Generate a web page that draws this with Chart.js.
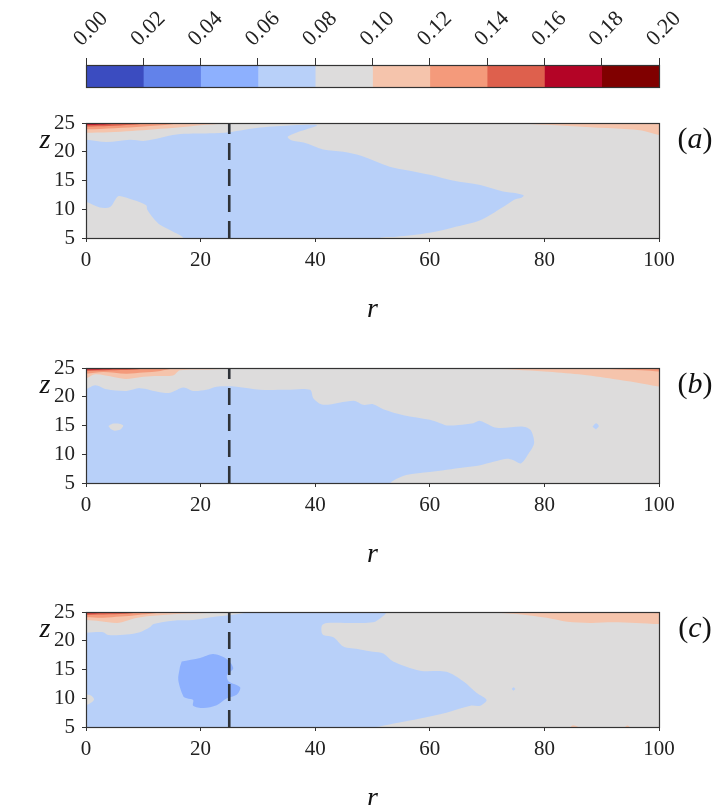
<!DOCTYPE html>
<html>
<head>
<meta charset="utf-8">
<script src="https://cdn.jsdelivr.net/npm/chart.js@4.4.1/dist/chart.umd.min.js"></script>
<style>
  body { margin: 0; width: 716px; height: 805px; overflow: hidden; background: #fff; position: relative; }
  canvas { position: absolute; left: 0; }
  .lbl { position: absolute; font-family: "Liberation Serif", serif; color: #111; transform: translate(-50%, -50%); white-space: nowrap; }
  .zlab { font-size: 28px; font-style: italic; }
  .plab { font-size: 30px; }
</style>
</head>
<body>
<canvas id="cbar" width="716" height="100" style="top:0px"></canvas>
<canvas id="panelA" width="716" height="230" style="top:100px"></canvas>
<canvas id="panelB" width="716" height="230" style="top:345px"></canvas>
<canvas id="panelC" width="716" height="230" style="top:589px"></canvas>

<div class="lbl zlab" style="left:45px; top:139px">z</div>
<div class="lbl zlab" style="left:45px; top:384px">z</div>
<div class="lbl zlab" style="left:45px; top:628px">z</div>
<div class="lbl plab" style="left:695px; top:138px">(<i>a</i>)</div>
<div class="lbl plab" style="left:695px; top:383px">(<i>b</i>)</div>
<div class="lbl plab" style="left:695px; top:627px">(<i>c</i>)</div>

<script>
// niveles del colorbar
const levels = [0, 0.02, 0.04, 0.06, 0.08, 0.10, 0.12, 0.14, 0.16, 0.18, 0.20];
const levelColors = ["#3b4cc0", "#6282ea", "#8db0fe", "#b8d0f9", "#dddcdc",
                     "#f5c4ac", "#f49a7b", "#de604d", "#b40426", "#800000"];
const rTicks = [0, 20, 40, 60, 80, 100];
const zTicks = [5, 10, 15, 20, 25];
const probeR = 25;

// panel (a): contornos [r, z]
const aBlue = [[-2,22.1],[0,22.1],[3.6,21.7],[7.7,22.1],[10.3,21.9],[15.8,23.0],[21.6,23.2],[25,23.4],
  [30.4,24.2],[36.2,24.6],[40.3,24.6],[37.5,23.6],[35.2,22.6],[35.8,22.0],[38,21.6],[41.4,20.4],
  [44.9,20.0],[48,19.3],[53,17.4],[56,16.8],[60,16.0],[64,15.0],[68.8,14.2],[72.8,13.1],[75.1,12.8],
  [76.4,12.4],[76,12.0],[74.8,11.7],[72.8,10.4],[68.8,8.1],[64.7,7.0],[60,5.9],[54.2,5.2],[51,4.9],
  [51,3],[17,3],[17,5],[15.2,6.1],[12.9,7.3],[11.8,8.4],[10.7,9.9],[10.5,10.7],[8.3,11.6],[5.9,12.3],
  [5.4,12.1],[4.2,10.4],[2.4,10.3],[0,11.3],[-2,11.3]];
const aPeachL = [[-2,26],[-2,23.3],[0,23.3],[4,23.4],[8,23.6],[12,23.9],[16,24.2],[20,24.6],[24,24.9],[26,25.3],[26,26]];
const aSalmonL = [[-2,26],[-2,23.9],[0,23.9],[5,24.1],[10,24.4],[15,24.8],[17,25.3],[17,26]];
const aRedL = [[-2,26],[-2,24.4],[0,24.4],[4,24.5],[8,24.7],[11,25.0],[12,25.3],[12,26]];
const aCrimsonL = [[-2,26],[-2,24.7],[0,24.7],[3,24.75],[6,24.9],[8,25.3],[8,26]];
const aMaroonL = [[-2,26],[-2,24.85],[0,24.85],[2,24.9],[4,25.0],[5,25.3],[5,26]];
const aPeachR = [[66,26],[66,25.3],[70,25],[76,24.85],[82,24.6],[88,24.25],[94,23.95],[97,23.7],[100,22.9],[102,22.8],[102,26]];

// panel (b)
const bBlue = [[-2,21.35],[0,21.35],[1.6,22.0],[3.6,21.3],[7.1,21.0],[9.4,21.5],[12.9,20.8],[14.7,20.7],
  [17,21.6],[18.7,21.0],[21,21.2],[22.8,21.75],[26.3,21.75],[30.4,21.2],[35,21.2],[39.1,21.2],[39.7,19.7],
  [41.4,18.6],[46.7,19.3],[48.4,18.6],[50.1,18.7],[52,17.8],[55.4,16.8],[60,16.0],[61.8,15.4],[63,15.0],
  [65,15.1],[67.6,15.4],[68.8,15.8],[71.7,14.6],[76.3,14.8],[77.6,14.2],[78.2,11.9],[77.1,9.9],[75.9,8.4],
  [74.5,9.0],[73.4,9.2],[68.8,8.1],[65.9,7.7],[60,6.9],[55.9,6.4],[53.6,5.4],[53,4.8],[53,3],[-2,3]];
const bGreyIsland = [[3.9,14.9],[4.6,15.3],[5.8,15.3],[6.5,15.0],[6.0,14.3],[5.0,14.1],[4.3,14.4]];
const bBlueIsland = [[88.4,14.8],[89,15.4],[89.5,14.9],[89,14.3]];
const bPeachL = [[-2,26],[-2,23.2],[0,23.2],[1.6,23.9],[5,23.4],[7,23.1],[9.4,23.4],[12,23.6],[15.2,23.7],
  [16.4,24.6],[21.6,24.75],[26,25.0],[27,25.3],[27,26]];
const bSalmonL = [[-2,26],[-2,24.0],[0,24.0],[3,24.3],[7,24.0],[10,24.2],[13,24.5],[15,24.9],[16,25.3],[16,26]];
const bRedL = [[-2,26],[-2,24.5],[0,24.5],[4,24.6],[8,24.7],[11,25.0],[12,25.3],[12,26]];
const bCrimsonL = [[-2,26],[-2,24.75],[0,24.75],[4,24.8],[7,24.9],[8.5,25.3],[8.5,26]];
const bMaroonL = [[1,26],[1,25.3],[2,24.9],[4,24.9],[6,25.3],[6,26]];
const bPeachR = [[66,26],[66,25.3],[69,25],[75,24.7],[80,24.4],[86,23.9],[92,23.1],[96,22.5],[100,21.8],[102,21.7],[102,26]];
const bSalmonR = [[84,26],[84,25.3],[86,25],[92,24.8],[97,24.6],[100,24.4],[102,24.4],[102,26]];
const bRedR = [[94,26],[94,25.3],[96,25],[100,24.8],[102,24.8],[102,26]];

// panel (c)
const cBlue = [[-2,21.4],[0,21.4],[3,21.5],[3.9,21.0],[7.1,21.1],[9.4,21.5],[11.2,22.4],[11.8,22.9],[15.2,23.5],
  [18.7,23.6],[22.8,24.2],[26.9,24.7],[30,25.3],[30,26],[52.5,26],[52.5,25.2],[52.2,24.6],[51.6,24.1],
  [50.1,23.2],[46,23.1],[42,23.1],[41.2,22.7],[41.1,21.6],[41.4,21.0],[43.2,20.6],[44.9,19.0],[47.8,18.5],
  [50.1,18.1],[51.9,17.8],[53.6,16.4],[58.3,14.8],[62.9,14.6],[65.9,12.9],[68.2,10.9],[69.9,9.7],[68.8,8.7],
  [67.1,8.7],[62.9,7.5],[58.3,6.5],[54.2,5.7],[51.3,5.1],[50,4.8],[50,3],[-2,3],[-2,8.8],[0,8.8],[1.0,9.3],
  [1.4,9.8],[1.0,10.4],[0,10.7],[-2,10.7]];
const cDarkBlue = [[16.7,16.4],[19.9,17.0],[22.2,17.7],[24.6,16.8],[25.7,15.2],[24.6,14.0],[24.9,12.9],[26.9,11.9],
  [26.3,10.6],[24.6,10.0],[22.8,8.8],[20.5,8.3],[18.7,8.7],[18.7,9.7],[17.6,10.0],[17,10.3],[16.1,13.2],[16.4,15.5]];
const cBlueDot = [[74.3,11.6],[74.6,11.9],[74.9,11.6],[74.6,11.3]];
const cPeachL = [[-2,26],[-2,23.6],[0,23.6],[2.5,23.4],[5.4,23.1],[7.1,23.5],[9,24.0],[11.2,24.3],[15.8,24.65],
  [20,24.8],[24.5,24.95],[26,25.3],[26,26]];
const cSalmonL = [[-2,26],[-2,24.1],[0,24.1],[3,24.0],[6,24.2],[9,24.5],[12,24.8],[14,25.3],[14,26]];
const cRedL = [[-2,26],[-2,24.5],[0,24.5],[4,24.6],[8,24.8],[10,25.3],[10,26]];
const cCrimsonL = [[-2,26],[-2,24.8],[0,24.8],[3,24.85],[5,25.3],[5,26]];
const cPeachR = [[66,26],[66,25.3],[69,25.0],[74.5,24.7],[80.4,24.0],[84,23.3],[88,23.1],[92,23.2],[96,23.1],
  [100,22.9],[102,22.9],[102,26]];
const cSalmonR = [[90,26],[90,25.3],[92,24.9],[100,24.8],[102,24.8],[102,26]];
const cPeachB1 = [[84,4],[85,5.3],[87.6,4]];
const cPeachB2 = [[93.3,4],[94.5,5.25],[95.6,4]];

// capas de abajo hacia arriba
const panelALayers = [
  { level: 3, pts: aBlue }, { level: 5, pts: aPeachL }, { level: 6, pts: aSalmonL }, { level: 7, pts: aRedL },
  { level: 8, pts: aCrimsonL }, { level: 9, pts: aMaroonL }, { level: 5, pts: aPeachR }
];
const panelBLayers = [
  { level: 3, pts: bBlue }, { level: 4, pts: bGreyIsland }, { level: 3, pts: bBlueIsland },
  { level: 5, pts: bPeachL }, { level: 6, pts: bSalmonL }, { level: 7, pts: bRedL }, { level: 8, pts: bCrimsonL },
  { level: 9, pts: bMaroonL }, { level: 5, pts: bPeachR }, { level: 6, pts: bSalmonR }, { level: 7, pts: bRedR }
];
const panelCLayers = [
  { level: 3, pts: cBlue }, { level: 2, pts: cDarkBlue }, { level: 3, pts: cBlueDot },
  { level: 5, pts: cPeachL }, { level: 6, pts: cSalmonL }, { level: 7, pts: cRedL }, { level: 8, pts: cCrimsonL },
  { level: 5, pts: cPeachR }, { level: 6, pts: cSalmonR }, { level: 5, pts: cPeachB1 }, { level: 5, pts: cPeachB2 }
];

const serif = "'Liberation Serif', 'DejaVu Serif', serif";
const inkColor = "#222";

// fondo gris (nivel 0.08-0.10) y marco de los ejes
const fieldBackground = {
    id: "fieldBackground",
    beforeDatasetsDraw(chart) {
        const { ctx, chartArea: a } = chart;
        ctx.save();
        ctx.fillStyle = levelColors[4];
        ctx.fillRect(a.left, a.top, a.width, a.height);
        ctx.restore();
    }
};
const frame = {
    id: "frame",
    afterDatasetsDraw(chart) {
        const { ctx, chartArea: a } = chart;
        ctx.save();
        ctx.strokeStyle = "#333";
        ctx.lineWidth = 1.2;
        ctx.strokeRect(Math.round(a.left) + 0.5, Math.round(a.top) + 0.5, Math.round(a.width), Math.round(a.height));
        ctx.restore();
    }
};

// Colorbar
new Chart(document.getElementById("cbar"), {
    type: "bar",
    data: {
        labels: [""],
        datasets: levelColors.map((c, i) => ({
            data: [[levels[i], levels[i + 1]]],
            backgroundColor: c,
            borderWidth: 0,
            grouped: false,
            barPercentage: 1,
            categoryPercentage: 1
        }))
    },
    options: {
        indexAxis: "y",
        responsive: false,
        animation: false,
        layout: { padding: { left: 86, right: 57, top: 0, bottom: 13 } },
        plugins: { legend: { display: false }, tooltip: { enabled: false } },
        scales: {
            x: {
                type: "linear", position: "top", min: 0, max: 0.2,
                afterBuildTicks: s => { s.ticks = levels.map(v => ({ value: v })); },
                afterFit: s => { s.height = 65; },
                grid: { drawOnChartArea: false, tickLength: 7, color: "#333" },
                border: { display: false },
                ticks: {
                    autoSkip: false, minRotation: 45, maxRotation: 45, padding: 6, labelOffset: 10,
                    color: inkColor, font: { family: serif, size: 22 },
                    callback: v => Number(v).toFixed(2)
                }
            },
            y: { display: false }
        }
    },
    plugins: [frame]
});

// Paneles de contorno
function makePanel(canvasId, layers) {
    const datasets = layers.map((layer, i) => ({
        data: layer.pts,
        fill: "shape",
        backgroundColor: levelColors[layer.level],
        borderColor: "rgba(0,0,0,0)",
        borderWidth: 0,
        pointRadius: 0,
        tension: 0.3,
        order: -i
    }));
    datasets.push({
        data: [[probeR, 5], [probeR, 25]],
        fill: false,
        borderColor: "#2e3238",
        borderWidth: 2.6,
        borderDash: [17, 9],
        pointRadius: 0,
        tension: 0,
        order: -100
    });

    return new Chart(document.getElementById(canvasId), {
        type: "line",
        data: { datasets },
        options: {
            responsive: false,
            animation: false,
            layout: { padding: { left: 0, right: 57, top: 23, bottom: 0 } },
            elements: { line: { capBezierPoints: false } },
            plugins: { legend: { display: false }, tooltip: { enabled: false } },
            scales: {
                x: {
                    type: "linear", min: 0, max: 100,
                    afterBuildTicks: s => { s.ticks = rTicks.map(v => ({ value: v })); },
                    afterFit: s => { s.height = 92; },
                    grid: { drawOnChartArea: false, tickLength: 4, color: "#333" },
                    border: { display: false },
                    ticks: { autoSkip: false, maxRotation: 0, padding: 6, color: inkColor, font: { family: serif, size: 21 } },
                    title: {
                        display: true, text: "r", color: "#111",
                        font: { family: serif, size: 28, style: "italic" },
                        padding: { top: 0, bottom: 4 }
                    }
                },
                y: {
                    type: "linear", min: 5, max: 25,
                    afterBuildTicks: s => { s.ticks = zTicks.map(v => ({ value: v })); },
                    afterFit: s => { s.width = 86; },
                    grid: { drawOnChartArea: false, tickLength: 4, color: "#333" },
                    border: { display: false },
                    ticks: { autoSkip: false, padding: 7, color: inkColor, font: { family: serif, size: 21 } }
                }
            }
        },
        plugins: [fieldBackground, frame]
    });
}

makePanel("panelA", panelALayers);
makePanel("panelB", panelBLayers);
makePanel("panelC", panelCLayers);
</script>
</body>
</html>
